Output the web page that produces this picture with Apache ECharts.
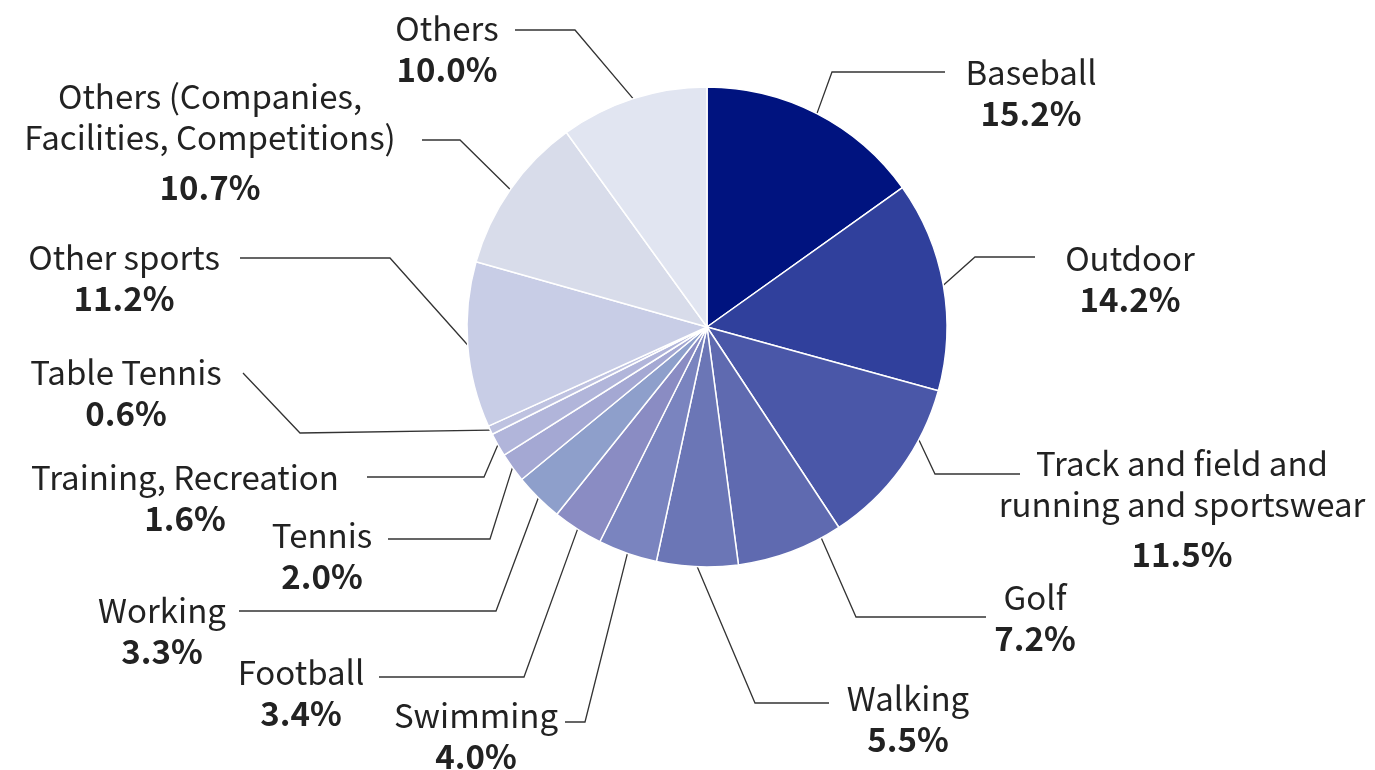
<!DOCTYPE html>
<html>
<head>
<meta charset="utf-8">
<script src="https://cdn.jsdelivr.net/npm/echarts@6/dist/echarts.min.js"></script>
<style>html,body{margin:0;padding:0;background:#fff}#c{width:1375px;height:770px}</style>
</head>
<body>
<div id="c"></div>
<script>
const categories = ['Baseball', 'Outdoor', 'Track and field and\nrunning and sportswear', 'Golf', 'Walking', 'Swimming', 'Football', 'Working', 'Tennis', 'Training, Recreation', 'Table Tennis', 'Other sports', 'Others (Companies,\nFacilities, Competitions)', 'Others'];
const shares = [15.2, 14.2, 11.5, 7.2, 5.5, 4.0, 3.4, 3.3, 2.0, 1.6, 0.6, 11.2, 10.7, 10.0];
const colors = ['#00137f', '#30409c', '#4a57a8', '#5f6ab0', '#6b76b6', '#7a84bf', '#8a8cc3', '#8e9fcb', '#a4a8d3', '#b1b5da', '#bec2e0', '#c8cde6', '#d8dcea', '#e1e5f1'];

// label placement (styling/layout only): label centre x, first-line centre y, elbow, end of leader, angular shift of start
const labelPlace = [
  {lx: 1031, ly: 72,  elbow: [832, 72],  end: [945, 72]},
  {lx: 1130, ly: 258, elbow: [975, 257], end: [1035, 257]},
  {lx: 1182, ly: 463, elbow: [935, 474], end: [1020, 474], shift: -8},
  {lx: 1035, ly: 597, elbow: [856, 617], end: [986, 617], shift: -8},
  {lx: 908,  ly: 698, elbow: [755, 703], end: [829, 703]},
  {lx: 476,  ly: 715, elbow: [585, 722], end: [565, 722]},
  {lx: 301,  ly: 672, elbow: [524, 677], end: [379, 677]},
  {lx: 162,  ly: 610, elbow: [496, 611], end: [239, 611]},
  {lx: 322,  ly: 535, elbow: [490, 539], end: [388, 539]},
  {lx: 185,  ly: 477, elbow: [484, 477], end: [367, 477]},
  {lx: 126,  ly: 372, elbow: [300, 433], end: [243, 373]},
  {lx: 124,  ly: 257, elbow: [390, 258], end: [240, 258]},
  {lx: 210,  ly: 96,  elbow: [460, 140], end: [422, 140]},
  {lx: 447,  ly: 28,  elbow: [575, 30],  end: [515, 30]}
];

const CX = 707, CY = 327;
const chart = echarts.init(document.getElementById('c'), null, {renderer: 'canvas'});
const FONT = '"Noto Sans CJK JP", "Noto Sans", sans-serif';
const LH = 41;

chart.setOption({
  animation: false,
  backgroundColor: '#fff',
  series: [{
    type: 'pie',
    center: [CX, CY],
    radius: [0, 240],
    startAngle: 90,
    clockwise: true,
    avoidLabelOverlap: false,
    data: categories.map((n, i) => ({name: n, value: shares[i], itemStyle: {color: colors[i]}})),
    itemStyle: {borderColor: '#fff', borderWidth: 1.5},
    emphasis: {disabled: true},
    label: {
      show: true,
      position: 'outside',
      formatter: p => {
        const lines = p.name.split('\n');
        const pct = p.value.toFixed(1) + '%';
        return lines.map(s => '{n|' + s + '}').join('\n') + '\n' + (lines.length > 1 ? '{pg|' + pct + '}' : '{p|' + pct + '}');
      },
      rich: {
        n: {fontFamily: FONT, fontSize: 33, color: '#222', lineHeight: LH, align: 'center'},
        p: {fontFamily: FONT, fontSize: 33, fontWeight: 'bold', color: '#222', lineHeight: LH, align: 'center'},
        pg: {fontFamily: FONT, fontSize: 33, fontWeight: 'bold', color: '#222', lineHeight: 59, align: 'center'}
      }
    },
    labelLine: {show: true, length: 20, length2: 20, lineStyle: {color: '#333', width: 1.3}},
    labelLayout: params => {
      const L = labelPlace[params.dataIndex];
      let s = params.labelLinePoints ? params.labelLinePoints[0].slice() : [CX, CY];
      if (L.shift) {
        const a = L.shift * Math.PI / 180;
        const dx = s[0] - CX, dy = s[1] - CY;
        s = [CX + dx * Math.cos(a) - dy * Math.sin(a), CY + dx * Math.sin(a) + dy * Math.cos(a)];
      }
      return {
        x: L.lx,
        y: L.ly - LH / 2,
        align: 'center',
        verticalAlign: 'top',
        labelLinePoints: [s, L.elbow, L.end]
      };
    }
  }]
});
</script>
</body>
</html>
